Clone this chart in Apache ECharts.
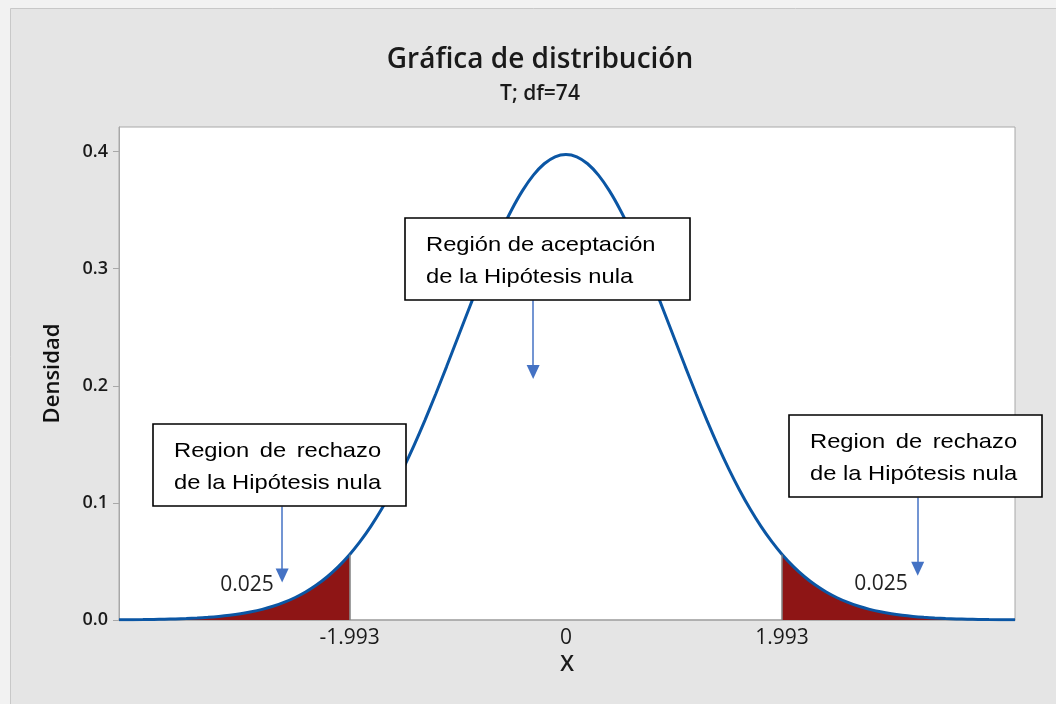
<!DOCTYPE html>
<html><head><meta charset="utf-8">
<script src="https://cdn.jsdelivr.net/npm/echarts@6/dist/echarts.min.js"></script>
<style>html,body{margin:0;padding:0;background:#f2f2f2}#c{width:1056px;height:704px}</style>
</head><body><div id="c"></div>
<script>
// ---- data ----
const xValues = [-4.12,-3.9,-3.8,-3.7,-3.6,-3.5,-3.4,-3.3,-3.2,-3.1,-3.0,-2.9,-2.8,-2.7,-2.6,-2.5,-2.4,-2.3,-2.2,-2.1,-1.993,
                 -1.9,-1.8,-1.7,-1.6,-1.5,-1.4,-1.3,-1.2,-1.1,-1.0,-0.9,-0.8,-0.7,-0.6,-0.5,-0.4,-0.3,-0.2,-0.1,0,
                 0.1,0.2,0.3,0.4,0.5,0.6,0.7,0.8,0.9,1.0,1.1,1.2,1.3,1.4,1.5,1.6,1.7,1.8,1.9,
                 1.993,2.1,2.2,2.3,2.4,2.5,2.6,2.7,2.8,2.9,3.0,3.1,3.2,3.3,3.4,3.5,3.6,3.7,3.8,3.9,4.14];
const density = [0.00017,0.00036,0.00050,0.00068,0.00094,0.00127,0.00172,0.00231,0.00308,0.00408,0.00537,0.00702,0.00911,0.01173,0.01499,0.01902,0.02392,0.02985,0.03695,0.04536,0.05597,
                 0.06664,0.07972,0.09452,0.11106,0.12930,0.14917,0.17048,0.19300,0.21641,0.24034,0.26433,0.28787,0.31042,0.33143,0.35035,0.36666,0.37987,0.38961,0.39558,0.39759,
                 0.39558,0.38961,0.37987,0.36666,0.35035,0.33143,0.31042,0.28787,0.26433,0.24034,0.21641,0.19300,0.17048,0.14917,0.12930,0.11106,0.09452,0.07972,0.06664,
                 0.05597,0.04536,0.03695,0.02985,0.02392,0.01902,0.01499,0.01173,0.00911,0.00702,0.00537,0.00408,0.00308,0.00231,0.00172,0.00127,0.00094,0.00068,0.00050,0.00036,0.00016];
const criticalValues = [-1.993, 1.993];
const tailAreas = ['0.025', '0.025'];
const xTickValues = [-1.993, 0, 1.993];
const xTickLabels = ['-1.993', '0', '1.993'];
const yTickValues = [0, 0.1, 0.2, 0.3, 0.4];
const yTickLabels = ['0.0', '0.1', '0.2', '0.3', '0.4'];
const titleText = 'Gráfica de distribución';
const subtitleText = 'T; df=74';
const acceptText = ['Región de aceptación', 'de la Hipótesis nula'];
const rejectText = ['Region de rechazo', 'de la Hipótesis nula'];

// ---- build ----
const curve = xValues.map((x, i) => [x, density[i]]);
const leftTail = curve.filter(p => p[0] <= criticalValues[0]);
const rightTail = curve.filter(p => p[0] >= criticalValues[1]);
const critDensity = criticalValues.map(c => density[xValues.indexOf(c)]);

const BOX_FONT = "'Liberation Sans', Arial, sans-serif";
const BOX_FS = 21, SX = 1.13;
const ctx = document.createElement('canvas').getContext('2d');
ctx.font = BOX_FS + 'px ' + BOX_FONT;
const mw = t => ctx.measureText(t).width * SX;

function textEl(t, x, y, align) {
  return {type: 'text', x: x, y: y, scaleX: SX, z: 100,
    style: {text: t, fill: '#000', font: BOX_FS + 'px ' + BOX_FONT, textAlign: align || 'left', textVerticalAlign: 'middle'}};
}
function box(x, y, w, h, lines, justify) {
  const els = [{type: 'rect', z: 99, shape: {x: x, y: y, width: w, height: h}, style: {fill: '#fff', stroke: '#000', lineWidth: 1.6}}];
  const tx = x + 21;
  const y1 = y + 27, y2 = y + 59;
  if (justify) {
    const words = lines[0].split(' ');
    const target = mw(lines[1]);
    const total = words.reduce((s, wd) => s + mw(wd), 0);
    const gap = (target - total) / (words.length - 1);
    let cx = tx;
    words.forEach(wd => { els.push(textEl(wd, cx, y1)); cx += mw(wd) + gap; });
  } else {
    els.push(textEl(lines[0], tx, y1));
  }
  els.push(textEl(lines[1], tx, y2));
  return els;
}

const graphics = [
  {type: 'rect', z: -10, silent: true, shape: {x: 10.5, y: 8.5, width: 1100, height: 800}, style: {fill: '#e5e5e5', stroke: '#c8c8c8', lineWidth: 1}},
  ...box(405, 218, 285, 82, acceptText, false),
  ...box(153, 424, 253, 82, rejectText, true),
  ...box(789, 415, 253, 82, rejectText, true),
  {type: 'text', x: 247, y: 585, z: 100, style: {text: tailAreas[0], fill: '#222', font: "21px 'Open Sans', sans-serif", textAlign: 'center', textVerticalAlign: 'middle'}},
  {type: 'text', x: 881, y: 584, z: 100, style: {text: tailAreas[1], fill: '#222', font: "21px 'Open Sans', sans-serif", textAlign: 'center', textVerticalAlign: 'middle'}}
];

const arrowStyle = {color: '#4472c4', width: 1.5, type: 'solid'};
const edgeLine = (i) => ({silent: true, symbol: 'none', label: {show: false}, animation: false,
  lineStyle: {color: '#808080', width: 1.5, type: 'solid'},
  data: [[{coord: [criticalValues[i], 0]}, {coord: [criticalValues[i], critDensity[i]]}]]});

const option = {
  backgroundColor: '#f2f2f2',
  animation: false,
  title: {
    text: titleText, subtext: subtitleText,
    left: 535, top: 41, textAlign: 'center', itemGap: 10,
    textStyle: {fontFamily: 'Open Sans', fontSize: 28, fontWeight: 600, color: '#1a1a1a'},
    subtextStyle: {fontFamily: 'Open Sans', fontSize: 21, fontWeight: 600, color: '#1a1a1a'}
  },
  grid: {left: 119, right: 41, top: 127, bottom: 84, show: true, backgroundColor: '#fff', borderColor: '#a8a8a8', borderWidth: 1},
  xAxis: {
    type: 'value', min: -4.12, max: 4.14,
    name: 'X', nameLocation: 'middle', nameGap: 34,
    nameTextStyle: {fontFamily: 'Open Sans', fontSize: 22, fontWeight: 600, color: '#1a1a1a'},
    axisLine: {onZero: false, lineStyle: {color: '#a8a8a8', width: 1.5}},
    axisTick: {show: false},
    splitLine: {show: false},
    axisLabel: {customValues: xTickValues, margin: 8, fontFamily: 'Open Sans', fontSize: 21, color: '#1a1a1a',
      formatter: v => xTickLabels[xTickValues.indexOf(v)] ?? String(v)}
  },
  yAxis: {
    type: 'value', min: 0, max: 0.421,
    name: 'Densidad', nameLocation: 'middle', nameGap: 55, nameRotate: 90,
    nameTextStyle: {fontFamily: 'Open Sans', fontSize: 22, fontWeight: 600, color: '#111'},
    axisLine: {show: true, onZero: false, lineStyle: {color: '#a8a8a8'}},
    axisTick: {show: true, customValues: yTickValues, length: 6, lineStyle: {color: '#a8a8a8'}},
    splitLine: {show: false},
    axisLabel: {customValues: yTickValues, margin: 11, fontFamily: 'Open Sans', fontSize: 18, fontWeight: 600, color: '#1a1a1a',
      formatter: v => yTickLabels[yTickValues.indexOf(v)] ?? v.toFixed(1)}
  },
  graphic: graphics,
  series: [
    {type: 'line', data: leftTail, smooth: 0.3, showSymbol: false, z: 2,
     lineStyle: {width: 0}, areaStyle: {color: '#8e1515', opacity: 1}, markLine: edgeLine(0)},
    {type: 'line', data: rightTail, smooth: 0.3, showSymbol: false, z: 2,
     lineStyle: {width: 0}, areaStyle: {color: '#8e1515', opacity: 1}, markLine: edgeLine(1)},
    {type: 'line', data: curve, smooth: 0.3, showSymbol: false, z: 3,
     lineStyle: {color: '#0b56a4', width: 3},
     markLine: {silent: true, symbol: ['none', 'triangle'], symbolSize: [13, 14], label: {show: false},
       lineStyle: arrowStyle, animation: false,
       data: [
         [{coord: [-2.616, 0.0970]}, {coord: [-2.616, 0.0380]}],
         [{coord: [-0.302, 0.2730]}, {coord: [-0.302, 0.2118]}],
         [{coord: [3.243, 0.1047]}, {coord: [3.243, 0.0438]}]
       ]}}
  ]
};
const chart = echarts.init(document.getElementById('c'), null, {renderer: 'canvas'});
chart.setOption(option);
</script></body></html>
